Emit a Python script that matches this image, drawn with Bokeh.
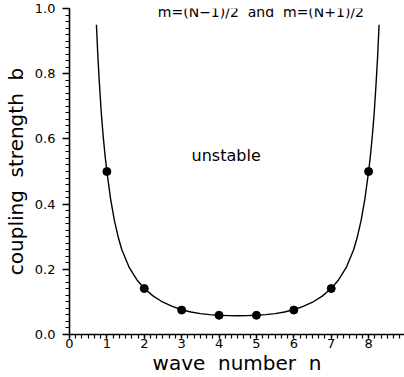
from bokeh.plotting import figure
from bokeh.models import Range1d, SingleIntervalTicker, NumeralTickFormatter, Label
from bokeh.embed import file_html
from bokeh.resources import INLINE

# data
wave_n = [1, 2, 3, 4, 5, 6, 7, 8]
coupling_b = [0.50, 0.141, 0.075, 0.059, 0.059, 0.075, 0.141, 0.50]

curve_n = [0.72, 0.76, 0.8, 0.85, 0.9, 0.95, 1.0, 1.1, 1.2, 1.3, 1.4, 1.6, 1.8, 2.0,
           2.25, 2.5, 2.75, 3.0, 3.25, 3.5, 3.75, 4.0, 4.25, 4.5,
           4.75, 5.0, 5.25, 5.5, 5.75, 6.0, 6.25, 6.5, 6.75, 7.0, 7.2, 7.4, 7.6,
           7.7, 7.8, 7.9, 8.0, 8.05, 8.1, 8.15, 8.2, 8.24, 8.28]
curve_b = [0.95, 0.85, 0.77, 0.68, 0.61, 0.55, 0.50, 0.415, 0.35, 0.30, 0.26, 0.205, 0.168, 0.141,
           0.117, 0.099, 0.086, 0.076, 0.069, 0.064, 0.061, 0.059, 0.058, 0.0575,
           0.058, 0.059, 0.061, 0.064, 0.069, 0.076, 0.086, 0.099, 0.117, 0.141, 0.168, 0.205, 0.26,
           0.30, 0.35, 0.415, 0.50, 0.55, 0.61, 0.68, 0.77, 0.85, 0.95]

title_text = "m=(N\u22121)/2 \u00a0and \u00a0m=(N+1)/2"
region_text = "unstable"
x_label = "wave \u00a0number \u00a0n"
y_label = "coupling \u00a0strength \u00a0b"

FONT = "DejaVu Sans"

p = figure(width=404, height=377, output_backend="svg", toolbar_location=None,
           x_range=Range1d(0, 8.96), y_range=Range1d(0, 1.0),
           min_border_left=68, min_border_right=0, min_border_top=8, min_border_bottom=43)
p.outline_line_color = None
p.xgrid.visible = False
p.ygrid.visible = False
p.background_fill_color = "white"
p.border_fill_color = "white"

p.line(curve_n, curve_b, line_color="black", line_width=1.4)
p.scatter(wave_n, coupling_b, size=8, color="black")

p.xaxis.ticker = SingleIntervalTicker(interval=1, num_minor_ticks=6)
p.yaxis.ticker = SingleIntervalTicker(interval=0.2, num_minor_ticks=10)
p.yaxis.formatter = NumeralTickFormatter(format="0.0")

for ax in (p.xaxis[0], p.yaxis[0]):
    ax.axis_line_width = 1.6
    ax.axis_line_color = "black"
    ax.major_tick_in = 0
    ax.minor_tick_in = 0
    ax.minor_tick_out = 4
    ax.major_tick_line_width = 1.4
    ax.minor_tick_line_width = 1.2
    ax.major_tick_line_color = "black"
    ax.minor_tick_line_color = "black"
    ax.major_label_text_font = FONT
    ax.major_label_text_font_size = "13px"
    ax.major_label_text_color = "black"
    ax.axis_label_text_font = FONT
    ax.axis_label_text_font_style = "normal"
    ax.axis_label_text_font_size = "20px"
    ax.axis_label_text_color = "black"

p.xaxis.major_tick_out = 4
p.yaxis.major_tick_out = 7
p.xaxis.axis_label = x_label
p.yaxis.axis_label = y_label
p.xaxis.major_label_standoff = 0
p.xaxis.axis_label_standoff = 0
p.yaxis.major_label_standoff = 7
p.yaxis.axis_label_standoff = 4

p.add_layout(Label(x=5.12, y=0.988, text=title_text, text_align="center", text_baseline="middle",
                   text_font=FONT, text_font_size="14px", text_color="black"))
p.add_layout(Label(x=4.19, y=0.549, text=region_text, text_align="center", text_baseline="middle",
                   text_font=FONT, text_font_size="16px", text_color="black"))

open("out.html", "w").write(file_html(p, INLINE))
